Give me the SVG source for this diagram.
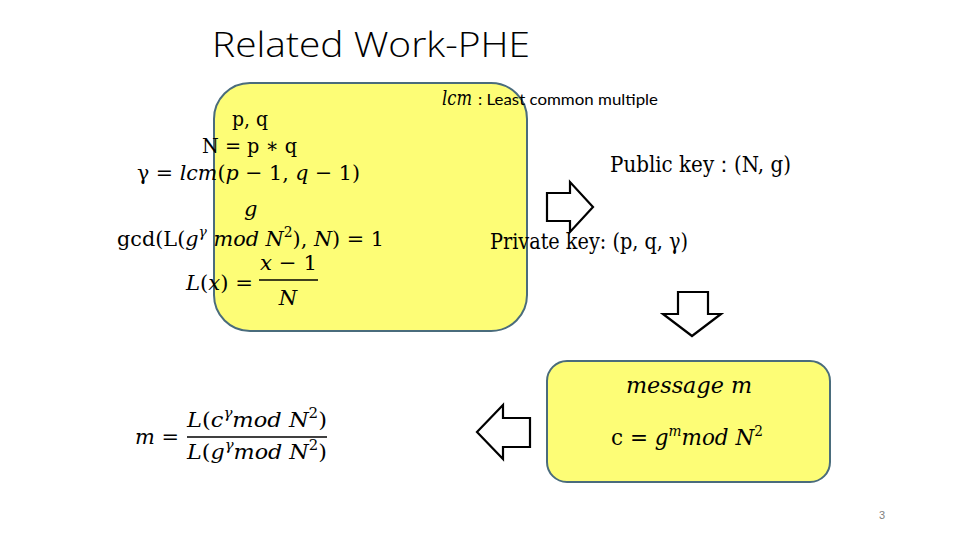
<svg xmlns="http://www.w3.org/2000/svg" width="960" height="540" viewBox="0 0 960 540">
<style>
.box{fill:#fdfd76;stroke:#4a6c7c;stroke-width:2}
.arr{fill:#ffffff;stroke:#000000;stroke-width:2.2;stroke-linejoin:miter}
.m{font-family:"DejaVu Serif","Liberation Serif",serif;font-size:21px;fill:#000}
.k{font-size:22px}
.i{font-style:italic}
.sup{font-size:14px}
.title{font-family:"Open Sans","Liberation Sans",sans-serif;font-weight:300;font-size:35px;fill:#000}
.note{font-family:"Lato","Liberation Sans",sans-serif;font-size:16px;fill:#000}
</style>
<rect width="960" height="540" fill="#ffffff"/>
<text class="title" x="212" y="57" textLength="318" lengthAdjust="spacingAndGlyphs">Related Work-PHE</text>

<g id="keygen">
<rect class="box" x="214" y="83" width="313" height="248" rx="36" ry="36"/>
<text class="m" x="232" y="126" textLength="36" lengthAdjust="spacingAndGlyphs">p, q</text>
<text class="m" x="202" y="153" textLength="95" lengthAdjust="spacingAndGlyphs">N = p ∗ q</text>
<text class="m" x="137" y="180" textLength="223" lengthAdjust="spacingAndGlyphs">γ = <tspan class="i">lcm</tspan>(<tspan class="i">p</tspan> − 1, <tspan class="i">q</tspan> − 1)</text>
<text class="m i" x="244" y="216">g</text>
<text class="m" x="117" y="246" textLength="267" lengthAdjust="spacingAndGlyphs">gcd(L(<tspan class="i">g</tspan><tspan class="i sup" dy="-9">γ</tspan><tspan class="i" dy="9"> mod N</tspan><tspan class="sup" dy="-9">2</tspan><tspan dy="9">), </tspan><tspan class="i">N</tspan>) = 1</text>
<text class="m" x="186" y="290" textLength="67" lengthAdjust="spacingAndGlyphs"><tspan class="i">L</tspan>(<tspan class="i">x</tspan>) =</text>
<text class="m" x="260" y="270" textLength="57" lengthAdjust="spacingAndGlyphs"><tspan class="i">x</tspan> − 1</text>
<line x1="259" y1="280" x2="318" y2="280" stroke="#000" stroke-width="1.3"/>
<text class="m i" x="288" y="305" text-anchor="middle">N</text>
</g>

<g id="lcm-note">
<text class="m i" x="442" y="105" font-size="15" textLength="30" lengthAdjust="spacingAndGlyphs">lcm</text>
<text class="note" x="478" y="105" textLength="180" lengthAdjust="spacingAndGlyphs">: Least common multiple</text>
</g>

<g id="keys">
<text class="m k" x="610" y="172" textLength="181" lengthAdjust="spacingAndGlyphs">Public key：(N, g)</text>
<text class="m k" x="490" y="249" textLength="198" lengthAdjust="spacingAndGlyphs">Private key: (p, q, γ)</text>
</g>

<g id="encrypt">
<rect class="box" x="547" y="361" width="283" height="121" rx="20" ry="20"/>
<text class="m k i" x="689" y="393" text-anchor="middle" textLength="126" lengthAdjust="spacingAndGlyphs">message  m</text>
<text class="m k" x="611" y="445" textLength="152" lengthAdjust="spacingAndGlyphs">c = <tspan class="i">g</tspan><tspan class="i sup" dy="-9">m</tspan><tspan class="i" dy="9">mod N</tspan><tspan class="sup" dy="-9">2</tspan></text>
</g>

<g id="decrypt">
<text class="m" x="135" y="444" textLength="44" lengthAdjust="spacingAndGlyphs"><tspan class="i">m</tspan> =</text>
<text class="m" x="187" y="427" textLength="140" lengthAdjust="spacingAndGlyphs"><tspan class="i">L</tspan>(<tspan class="i">c</tspan><tspan class="i sup" dy="-9">γ</tspan><tspan class="i" dy="9">mod N</tspan><tspan class="sup" dy="-9">2</tspan><tspan dy="9">)</tspan></text>
<line x1="187" y1="437" x2="327" y2="437" stroke="#000" stroke-width="1.3"/>
<text class="m" x="187" y="459" textLength="140" lengthAdjust="spacingAndGlyphs"><tspan class="i">L</tspan>(<tspan class="i">g</tspan><tspan class="i sup" dy="-9">γ</tspan><tspan class="i" dy="9">mod N</tspan><tspan class="sup" dy="-9">2</tspan><tspan dy="9">)</tspan></text>
</g>

<g id="connectors">
<polygon class="arr" points="547,193 570,193 570,182 593,207 570,232 570,221 547,221"/>
<polygon class="arr" points="678,292 708,292 708,314 721,314 692,336 663,314 678,314"/>
<polygon class="arr" points="530,418 503,418 503,405 477,432 503,459 503,447 530,447"/>
</g>

<text x="882" y="519" font-family="Liberation Sans,sans-serif" font-size="11" fill="#7f7f7f" text-anchor="middle">3</text>
</svg>
